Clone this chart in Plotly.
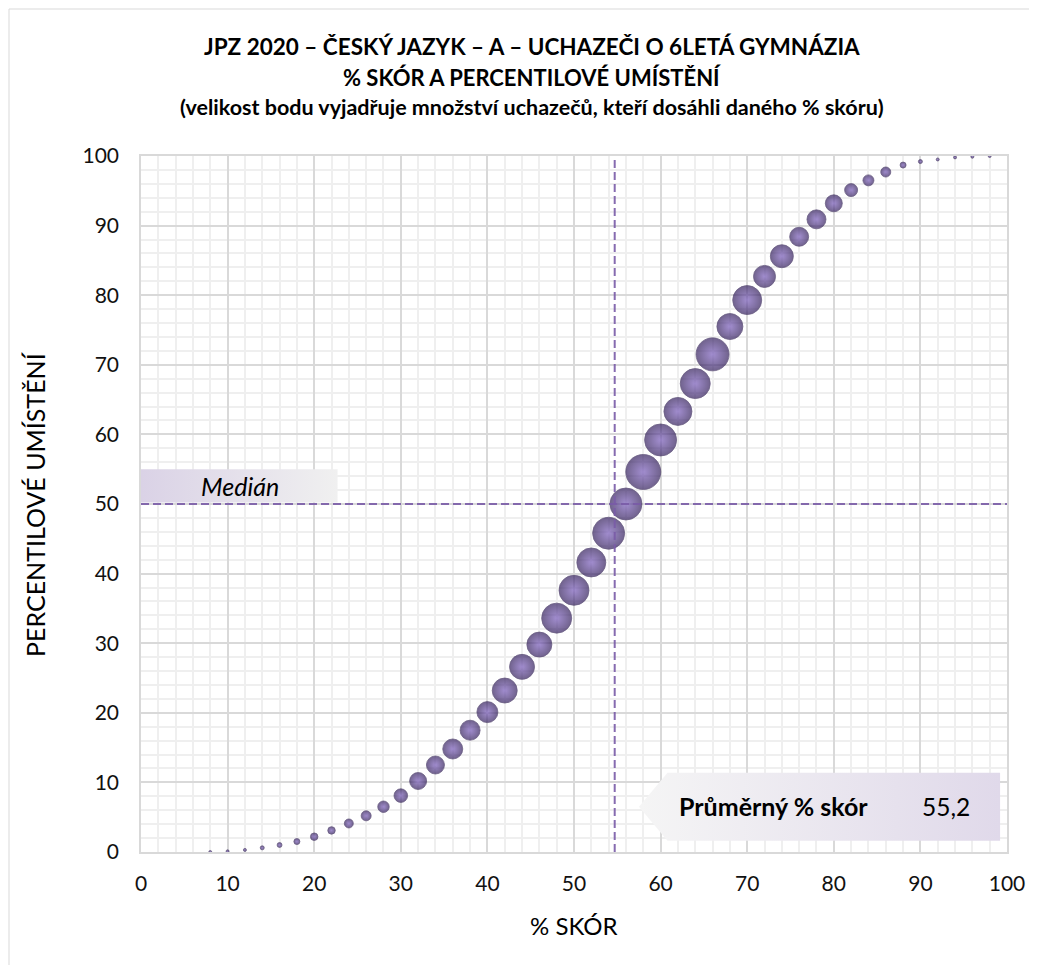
import plotly.graph_objects as go

# ---- data ----
skore = [8, 10, 12, 14, 16, 18, 20, 22, 24, 26, 28, 30, 32, 34, 36, 38, 40, 42, 44, 46,
         48, 50, 52, 54, 56, 58, 60, 62, 64, 66, 68, 70, 72, 74, 76, 78, 80, 82, 84, 86,
         88, 90, 92, 94, 96, 98]
percentil = [0.0, 0.1, 0.3, 0.6, 1.0, 1.5, 2.2, 3.1, 4.1, 5.2, 6.5, 8.1, 10.2, 12.5, 14.8, 17.5,
             20.1, 23.2, 26.6, 29.8, 33.6, 37.6, 41.6, 45.8, 50.0, 54.6, 59.2, 63.3, 67.3, 71.5,
             75.5, 79.3, 82.7, 85.6, 88.4, 90.9, 93.2, 95.1, 96.5, 97.7, 98.7, 99.2, 99.5, 99.8,
             99.9, 100.0]
pocet = [1, 1, 2, 4, 6, 9, 14, 14, 20, 25, 33, 46, 72, 81, 100, 100, 110, 156, 156, 156,
         225, 225, 210, 256, 256, 306, 256, 196, 225, 272, 169, 210, 121, 132, 90, 90, 72, 42,
         30, 25, 9, 4, 2, 1, 1, 1]

median_pct = 50
prumer_label = "55,2"
prumer_line_x = 54.7

title_lines = ["JPZ 2020 – ČESKÝ JAZYK – A – UCHAZEČI O 6LETÁ GYMNÁZIA",
               "% SKÓR A PERCENTILOVÉ UMÍSTĚNÍ",
               "(velikost bodu vyjadřuje množství uchazečů, kteří dosáhli daného % skóru)"]
x_title = "% SKÓR"
y_title = "PERCENTILOVÉ UMÍSTĚNÍ"
x_ticks = list(range(0, 101, 10))
y_ticks = list(range(0, 101, 10))

FONT = "Lato"
PURPLE = "#7a5ca8"

# page has an 8px body margin; figure sized to fit the 1037x965 window
W, H = 1029, 957
L, R, T, B = 133, 30, 148, 113
pw, ph = W - L - R, H - T - B
OFF = 8


def px_x(p):  # page pixel -> paper x
    return (p - OFF - L) / pw


def px_y(p):  # page pixel -> paper y
    return (H - B - (p - OFF)) / ph


fig = go.Figure()

# median label box (gradient)
fig.add_trace(go.Scatter(
    x=[0, 22.7, 22.7, 0, 0], y=[50.2, 50.2, 55.0, 55.0, 50.2],
    fill="toself", mode="lines", line=dict(width=0),
    fillgradient=dict(type="horizontal", colorscale=[[0, "#dad2e6"], [1, "#f0f0f0"]]),
    hoverinfo="skip", showlegend=False))

# average label box (arrow shape, gradient)
fig.add_trace(go.Scatter(
    x=[57.5, 60.8, 99.2, 99.2, 60.8, 57.5], y=[6.5, 11.4, 11.4, 1.6, 1.6, 6.5],
    fill="toself", mode="lines", line=dict(width=0),
    fillgradient=dict(type="horizontal", colorscale=[[0, "#f5f5f5"], [1, "#e0d9ea"]]),
    hoverinfo="skip", showlegend=False))

# bubbles
fig.add_trace(go.Scatter(
    x=skore, y=percentil, mode="markers",
    marker=dict(size=pocet, sizemode="area", sizeref=0.5, sizemin=1.5,
                color="#35215e",
                gradient=dict(type="radial", color="#7c5fbd"),
                line=dict(width=0.8, color="#2e1d52")),
    hovertemplate="% skór: %{x}<br>percentil: %{y}<extra></extra>",
    showlegend=False))

shapes = [
    dict(type="line", xref="x", yref="y", x0=0, x1=100, y0=median_pct, y1=median_pct,
         line=dict(color=PURPLE, width=2, dash="8px,4px"), layer="above", opacity=0.9),
    dict(type="line", xref="x", yref="y", x0=prumer_line_x, x1=prumer_line_x, y0=0, y1=100,
         line=dict(color=PURPLE, width=2, dash="8px,4px"), layer="above", opacity=0.9),
    # outer chart border
    dict(type="rect", xref="paper", yref="paper", x0=px_x(9), y0=px_y(1100), x1=px_x(1200),
         y1=px_y(9), line=dict(color="#d9d9d9", width=1), fillcolor="rgba(0,0,0,0)",
         layer="below"),
]


def ann(text, x, y, size, xref="paper", yref="paper", angle=0):
    return dict(text=text, x=x, y=y, xref=xref, yref=yref, showarrow=False, textangle=angle,
                font=dict(family=FONT, size=size, color="#000"),
                xanchor="center", yanchor="middle")


annotations = [
    ann("<b>" + title_lines[0] + "</b>", px_x(532), px_y(46), 22.5),
    ann("<b>" + title_lines[1] + "</b>", px_x(532), px_y(77), 22),
    ann("<b>" + title_lines[2] + "</b>", px_x(532), px_y(107), 21.5),
    ann(y_title, px_x(35), 0.5, 25, angle=-90),
    ann(x_title, 0.5, px_y(925), 24),
    ann("<i>Medián</i>", 11.4, 52.6, 25, "x", "y"),
    ann("<b>Průměrný % skór</b>", 73.0, 6.6, 25, "x", "y"),
    ann(prumer_label, 93.0, 6.6, 24.5, "x", "y"),
]

axis_common = dict(
    showgrid=True, gridcolor="#d9d9d9", gridwidth=1.5,
    showline=True, linecolor="#d9d9d9", linewidth=1.5, mirror=True,
    zeroline=False, ticks="", tickfont=dict(family=FONT, size=21, color="#111"),
    minor=dict(dtick=2, showgrid=True, gridcolor="#efefef", gridwidth=1.5),
)

fig.update_layout(
    width=W, height=H,
    margin=dict(l=L, r=R, t=T, b=B, pad=0),
    paper_bgcolor="white", plot_bgcolor="white",
    font=dict(family=FONT, color="#000"),
    xaxis=dict(range=[0, 100], tickvals=x_ticks, ticklabelstandoff=12, **axis_common),
    yaxis=dict(range=[0, 100], tickvals=y_ticks, ticklabelstandoff=16, **axis_common),
    shapes=shapes, annotations=annotations,
)

fig.write_html("out.html")
